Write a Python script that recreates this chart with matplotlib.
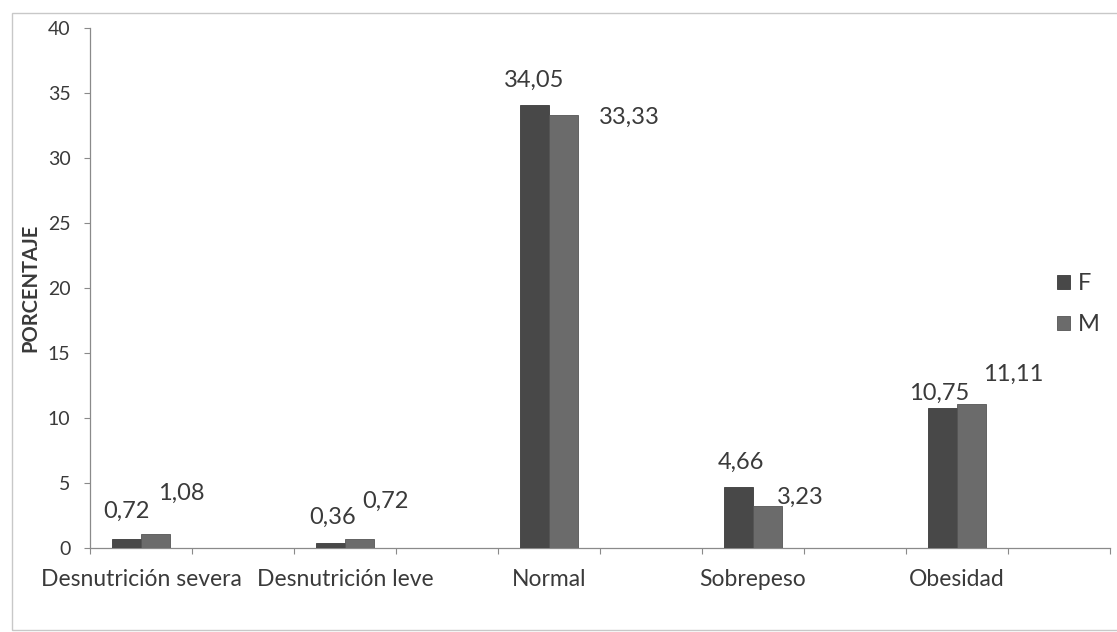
import numpy as np
import matplotlib
matplotlib.use("Agg")
import matplotlib.pyplot as plt
from matplotlib.patches import Rectangle

# Nutritional status by sex (percent)
categories = ["Desnutrición severa", "Desnutrición leve", "Normal", "Sobrepeso", "Obesidad"]
series_names = ["F", "M"]
values_f = [0.72, 0.36, 34.05, 4.66, 10.75]
values_m = [1.08, 0.72, 33.33, 3.23, 11.11]
y_ticks = [0, 5, 10, 15, 20, 25, 30, 35, 40]
y_label = "PORCENTAJE"

# Label offsets (pixels) from the top centre of each bar
offsets_f = [(0, 27), (2, 26), (0, 25), (2, 25), (-3, 15)]
offsets_m = [(26, 41), (26, 37), (66, -3), (33, 9), (42, 29)]

plt.rcParams["font.family"] = ["Lato", "DejaVu Sans"]
TEXT = "#3a3a3a"
AXIS = "#8a8a8a"
COL_F = "#484848"
COL_M = "#6b6b6b"

W, H, DPI = 1117, 632, 100
fig = plt.figure(figsize=(W / DPI, H / DPI), dpi=DPI)
fig.patch.set_facecolor("white")

# Outer chart-area frame
fig.patches.append(Rectangle((12 / W, 2 / H), 1.2, 1 - 15 / H,
                             transform=fig.transFigure, fill=False,
                             edgecolor="#c8c8c8", linewidth=1.0))

ax = fig.add_axes([90 / W, 1 - 548 / H, 1020 / W, 520 / H])

x = np.arange(len(categories))
bw = 0.142
bars_f = ax.bar(x - bw / 2, values_f, bw, color=COL_F, edgecolor="#3a3a3a",
                linewidth=0.6, label=series_names[0], zorder=3)
bars_m = ax.bar(x + bw / 2, values_m, bw, color=COL_M, edgecolor="#555555",
                linewidth=0.6, label=series_names[1], zorder=3)

px2pt = 72 / DPI
for bars, vals, offs in ((bars_f, values_f, offsets_f), (bars_m, values_m, offsets_m)):
    for b, v, (dx, dy) in zip(bars, vals, offs):
        ax.annotate(f"{v:.2f}".replace(".", ","),
                    xy=(b.get_x() + b.get_width() / 2, v),
                    xytext=(dx * px2pt, dy * px2pt), textcoords="offset points",
                    ha="center", va="center", fontsize=17, color=TEXT, zorder=5)

ax.set_xlim(-0.25, len(categories) - 0.25)
ax.set_ylim(0, 40)
ax.set_yticks(y_ticks)
ax.set_yticklabels([str(t) for t in y_ticks])
ax.set_xticks(np.arange(-0.25, len(categories), 0.5))
ax.set_xticklabels([])
for xi, name in zip(x, categories):
    ax.text(xi, -2.45, name, ha="center", va="center", fontsize=16.5, color=TEXT)

ax.tick_params(axis="y", direction="out", length=4, color=AXIS, labelsize=14,
               labelcolor=TEXT, pad=10)
ax.tick_params(axis="x", direction="out", length=4, color=AXIS)
for s in ("top", "right"):
    ax.spines[s].set_visible(False)
for s in ("left", "bottom"):
    ax.spines[s].set_color(AXIS)
    ax.spines[s].set_linewidth(0.9)

ax.set_ylabel(y_label, fontsize=14.5, fontweight="bold", color=TEXT)
ax.yaxis.set_label_coords(-50 / 1020, 0.5)

fig.legend(handles=[bars_f, bars_m], labels=series_names, loc="center left",
           bbox_to_anchor=(1057 / W, 1 - 304 / H), frameon=False, fontsize=17,
           borderpad=0, borderaxespad=0, handlelength=0.55, handleheight=0.55,
           handletextpad=0.35, labelspacing=0.85, labelcolor=TEXT)

fig.savefig("out.png", dpi=DPI)
